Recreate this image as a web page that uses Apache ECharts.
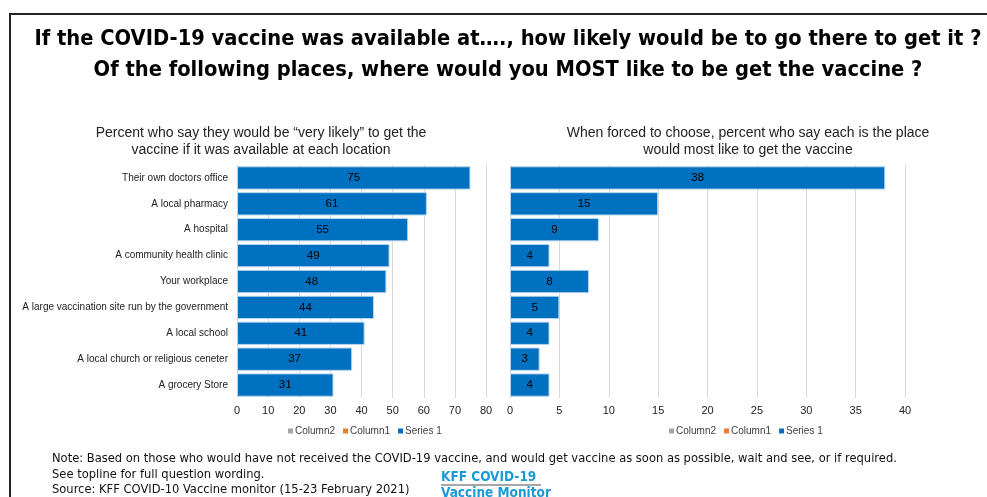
<!DOCTYPE html>
<html>
<head>
<meta charset="utf-8">
<script src="https://cdn.jsdelivr.net/npm/echarts@6/dist/echarts.min.js"></script>
<style>
  html, body { margin: 0; padding: 0; background: #fff; }
  #chart { width: 987px; height: 497px; }
</style>
</head>
<body>
<div id="chart"></div>
<script>
var places = [
  "Their own doctors office",
  "A local pharmacy",
  "A hospital",
  "A community health clinic",
  "Your workplace",
  "A large vaccination site run by the government",
  "A local school",
  "A local church or religious ceneter",
  "A grocery Store"
];
var veryLikely = [75, 61, 55, 49, 48, 44, 41, 37, 31];
var mostLike = [38, 15, 9, 4, 8, 5, 4, 3, 4];
var legendNames = ["Column2", "Column1", "Series 1"];
var legendColors = ["#a5a5a5", "#ed7d31", "#0070c0"];

var narrow = "'DejaVu Sans Condensed', 'Liberation Sans Narrow', 'Arial Narrow', sans-serif";
var sans = "'Liberation Sans', Arial, sans-serif";

function barSeries(name, data, idx) {
  return {
    name: name,
    type: "bar",
    xAxisIndex: idx,
    yAxisIndex: idx,
    stack: "s" + idx,
    data: data,
    barCategoryGap: "10%",
    itemStyle: {
      color: legendColors[legendNames.indexOf(name)],
      borderColor: "#b8d4ee",
      borderWidth: 1
    },
    label: {
      show: data.length > 0,
      position: "inside",
      color: "#000",
      fontSize: 11.5,
      fontFamily: sans
    },
    silent: true
  };
}

var series = [];
[0, 1].forEach(function (idx) {
  series.push(barSeries("Column2", [], idx));
  series.push(barSeries("Column1", [], idx));
  series.push(barSeries("Series 1", idx === 0 ? veryLikely : mostLike, idx));
});

function legendAt(left) {
  return {
    data: legendNames,
    left: left,
    top: 421,
    icon: "rect",
    itemWidth: 5,
    itemHeight: 5,
    itemGap: 8,
    itemStyle: { borderWidth: 0 },
    textStyle: { fontSize: 10, color: "#404040", fontFamily: sans, padding: [0, 0, 0, -3] },
    selectedMode: false
  };
}

var chart = echarts.init(document.getElementById("chart"));
chart.setOption({
  animation: false,
  backgroundColor: "#fff",
  title: [
    {
      text: "If the COVID-19 vaccine was available at…., how likely would be to go there to get it ?\nOf the following places, where would you MOST like to be get the vaccine ?",
      left: 503,
      top: 19,
      textAlign: "center",
      textStyle: { fontSize: 21.7, fontWeight: "bold", color: "#000", fontFamily: narrow, lineHeight: 31 }
    },
    {
      text: "Percent who say they would be “very likely” to get the\nvaccine if it was available at each location",
      left: 256,
      top: 120,
      textAlign: "center",
      textStyle: { fontSize: 14, fontWeight: "normal", color: "#222", fontFamily: sans, lineHeight: 17 }
    },
    {
      text: "When forced to choose, percent who say each is the place\nwould most like to get the vaccine",
      left: 743,
      top: 120,
      textAlign: "center",
      textStyle: { fontSize: 14, fontWeight: "normal", color: "#222", fontFamily: sans, lineHeight: 17 }
    },
    {
      text: "Note: Based on those who would have not received the COVID-19 vaccine, and would get vaccine as soon as possible, wait and see, or if required.\nSee topline for full question wording.\nSource: KFF COVID-10 Vaccine monitor (15-23 February 2021)",
      left: 47,
      top: 446,
      textStyle: { fontSize: 12.8, fontWeight: "normal", color: "#111", fontFamily: narrow, lineHeight: 15.5 }
    }
  ],
  legend: [legendAt(283), legendAt(664)],
  grid: [
    { left: 237, right: 501, top: 165, height: 233 },
    { left: 510, right: 82, top: 165, height: 233 }
  ],
  xAxis: [0, 1].map(function (idx) {
    return {
      type: "value",
      gridIndex: idx,
      min: 0,
      max: idx === 0 ? 80 : 40,
      interval: idx === 0 ? 10 : 5,
      axisLine: { show: false },
      axisTick: { show: false },
      splitLine: { lineStyle: { color: "#d9d9d9" } },
      axisLabel: { fontSize: 11, color: "#222", fontFamily: sans, margin: 7 }
    };
  }),
  yAxis: [0, 1].map(function (idx) {
    return {
      type: "category",
      gridIndex: idx,
      data: places,
      inverse: true,
      axisLine: { show: false },
      axisTick: { show: false },
      axisLabel: {
        show: idx === 0,
        fontSize: 10,
        color: "#222",
        fontFamily: sans,
        margin: 9
      }
    };
  }),
  series: series,
  graphic: [
    {
      type: "polyline",
      shape: { points: [[10, 520], [10, 14], [1000, 14]] },
      style: { stroke: "#222", lineWidth: 2, fill: null }
    },
    {
      type: "text",
      left: 441,
      top: 470,
      style: { text: "KFF COVID-19", fontSize: 13.5, fontWeight: "bold", fill: "#1a9ad6", fontFamily: narrow }
    },
    {
      type: "line",
      shape: { x1: 441, y1: 485, x2: 541, y2: 485 },
      style: { stroke: "#8a8a8a", lineWidth: 1.5 }
    },
    {
      type: "text",
      left: 441,
      top: 486,
      style: { text: "Vaccine Monitor", fontSize: 13.5, fontWeight: "bold", fill: "#1a9ad6", fontFamily: narrow }
    }
  ]
});
</script>
</body>
</html>
